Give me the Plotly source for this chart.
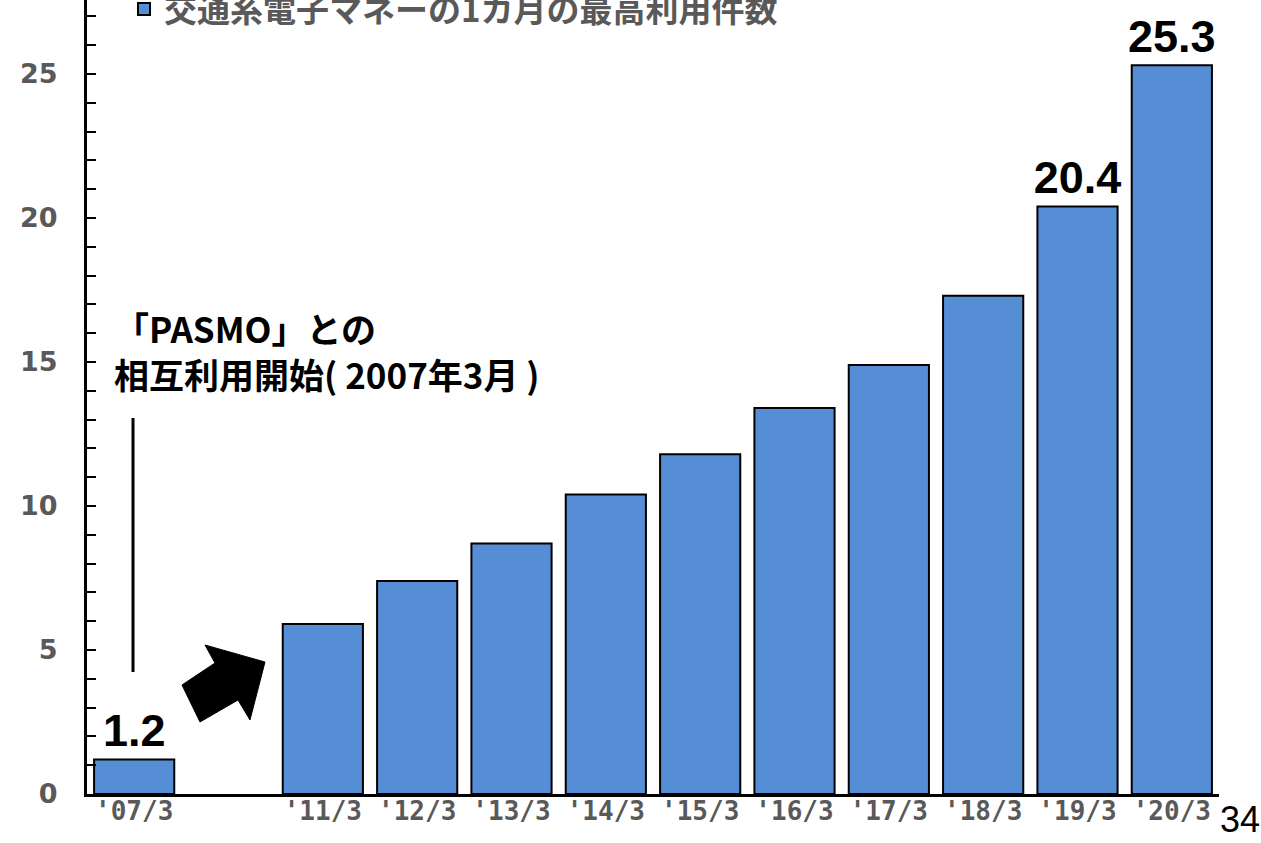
import plotly.graph_objects as go

# ---- data ----
categories = ["'07/3", " ", "'11/3", "'12/3", "'13/3", "'14/3", "'15/3",
              "'16/3", "'17/3", "'18/3", "'19/3", "'20/3"]
values = [1.2, None, 5.9, 7.4, 8.7, 10.4, 11.8, 13.4, 14.9, 17.3, 20.4, 25.3]
labelled = ["'07/3", "'19/3", "'20/3"]
series_name = "交通系電子マネーの1カ月の最高利用件数"
y_ticks = [0, 5, 10, 15, 20, 25]
note_text = "「PASMO」との<br>相互利用開始( 2007年3月 )"
page_number = "34"

# ---- layout geometry (pixels) ----
W, H = 1261, 843
ML, MR, MT, MB = 87, 42, 0, 49
PW, PH = W - ML - MR, H - MT - MB


def px(x):
    return (x - ML) / PW


def py(y):
    return (H - MB - y) / PH


GRAY = "#595959"
BLUE = "#558ED5"

bar_text = [f"{v:.1f}" if (c in labelled and v is not None) else ""
            for c, v in zip(categories, values)]

fig = go.Figure()
fig.add_trace(go.Bar(
    x=categories, y=values, name=series_name,
    marker=dict(color=BLUE, line=dict(color="black", width=2)),
    text=bar_text, textposition="outside", constraintext="none",
    textfont=dict(family="Liberation Sans", size=45, color="black",
                  weight="bold"),
    cliponaxis=False, showlegend=True, hoverinfo="skip",
))

# block arrow (decoration)
arrow_pts = [(265, 662), (205, 645), (215, 663), (182, 685),
             (200, 722), (238, 700), (250, 720)]
path = "M " + " L ".join(f"{px(a):.5f},{py(b):.5f}" for a, b in arrow_pts) + " Z"
fig.add_shape(type="path", xref="paper", yref="paper", path=path,
              fillcolor="black", line=dict(color="black", width=1))

# leader line
fig.add_shape(type="line", xref="paper", yref="paper",
              x0=px(133), x1=px(133), y0=py(418), y1=py(672),
              line=dict(color="black", width=3))

fig.add_annotation(xref="paper", yref="paper", x=px(112), y=py(351),
                   xanchor="left", yanchor="middle", align="left",
                   text=note_text, showarrow=False,
                   font=dict(family="Noto Sans CJK JP", size=35, color="black",
                             weight="bold"))

fig.add_annotation(xref="paper", yref="paper", x=px(1240), y=py(819),
                   xanchor="center", yanchor="middle", text=page_number,
                   showarrow=False,
                   font=dict(family="Liberation Sans Narrow, Liberation Sans",
                             size=36, color="black"))

fig.update_layout(
    width=W, height=H,
    margin=dict(l=ML, r=MR, t=MT, b=MB, autoexpand=False),
    paper_bgcolor="white", plot_bgcolor="white",
    bargap=0.15,
    legend=dict(x=px(124), y=py(9), xanchor="left", yanchor="middle",
                bgcolor="rgba(0,0,0,0)",
                font=dict(family="Noto Sans CJK JP", size=33, color=GRAY,
                          weight="bold")),
    xaxis=dict(type="category", categoryorder="array", categoryarray=categories,
               range=[-0.5, len(categories) - 0.5],
               showline=True, linecolor="black", linewidth=3,
               ticks="", showgrid=False, ticklabelstandoff=-8,
               tickfont=dict(family="DejaVu Sans Mono", size=26, color=GRAY,
                             weight="bold")),
    yaxis=dict(range=[0, (H - MB) / 28.8], tickvals=y_ticks,
               showline=True, linecolor="black", linewidth=3,
               ticks="inside", ticklen=9, tickwidth=1.5, tickcolor="black",
               minor=dict(dtick=1, ticks="inside", ticklen=9, tickwidth=1.5,
                          tickcolor="black"),
               showgrid=False, zeroline=False, ticklabelstandoff=21,
               tickfont=dict(family="DejaVu Sans", size=27, color=GRAY,
                             weight="bold")),
)

fig.write_html("out.html", config={"displayModeBar": False},
               post_script="document.body.style.margin='0';")
